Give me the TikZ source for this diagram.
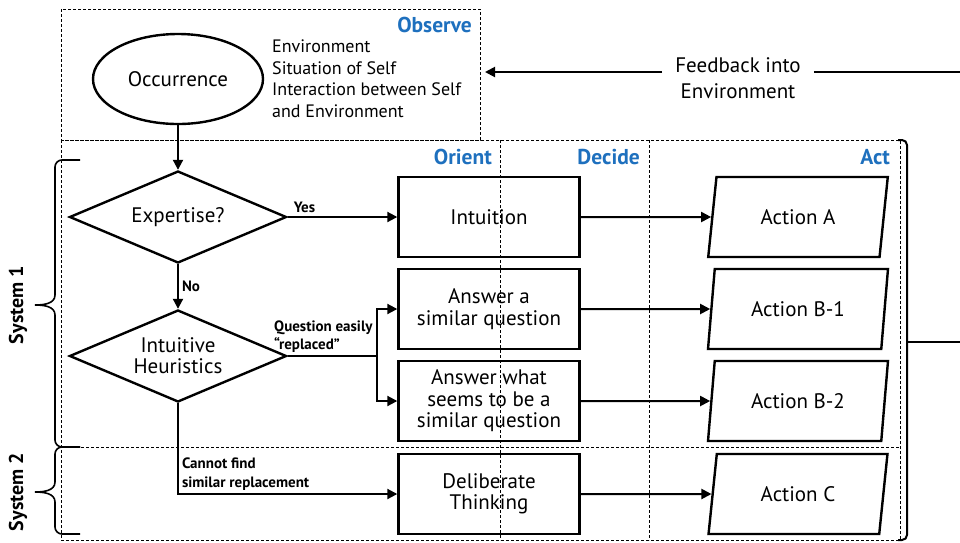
\documentclass[tikz,border=0pt]{standalone}
\usepackage{fontspec}
\setmainfont{PT Sans}
\usetikzlibrary{shapes.geometric,arrows.meta}
\definecolor{phaseblue}{RGB}{30,112,190}
\begin{document}
\begin{tikzpicture}[x=1pt,y=-1pt,
    box/.style={draw,line width=2.4pt,minimum width=181pt,minimum height=80pt,inner sep=0pt,align=center,font=\fontsize{21}{21.5}\selectfont},
    dec/.style={draw,diamond,aspect=2.36,line width=2.4pt,minimum width=217pt,minimum height=92pt,inner sep=0pt,align=center,font=\fontsize{21}{21}\selectfont},
    act/.style={draw,trapezium,trapezium left angle=76,trapezium right angle=104,trapezium stretches=true,line width=2.4pt,minimum width=180pt,minimum height=80pt,inner sep=0pt,font=\fontsize{21}{21.5}\selectfont},
    phase/.style={font=\fontsize{21.5}{22}\selectfont\bfseries,text=phaseblue,inner sep=0pt},
    lbl/.style={font=\fontsize{15}{18}\selectfont\bfseries,inner sep=3pt},
    arrow/.style={line width=2pt,-{Triangle[length=10pt,width=10pt]}},
    frame/.style={line width=0.9pt,dash pattern=on 3pt off 2pt},
    brace/.style={line width=1.6pt}]
  \useasboundingbox (0,0) rectangle (960,542);
  \draw[frame] (61,9) rectangle (480,140);
  \draw[frame] (61,140) rectangle (900,540);
  \draw[frame] (500,140) -- (500,540);
  \draw[frame] (649,140) -- (649,540);
  \draw[frame] (61,447) -- (900,447);
  \node[phase,anchor=east] (observe) at (472,25) {Observe};
  \node[phase,anchor=east] (orient) at (492,157) {Orient};
  \node[phase,anchor=east] (decide) at (640,157) {Decide};
  \node[phase,anchor=east] (act) at (890,157) {Act};
  \node[draw,ellipse,line width=2.4pt,minimum width=170pt,minimum height=90pt,inner sep=0pt,font=\fontsize{21}{21}\selectfont] (occ) at (178,79) {Occurrence};
  \node[anchor=north west,align=left,inner sep=0pt,font=\fontsize{18}{21.5}\selectfont] (env) at (272,40) {Environment\\Situation of Self\\Interaction between Self\\and Environment};
  \node[align=center,inner xsep=13pt,font=\fontsize{21}{26}\selectfont] (fb) at (738,78) {Feedback into\\Environment};
  \coordinate (fbin) at (485,72);
  \coordinate (fbout) at (960,72);
  \draw[arrow] (fb.west |- fbin) -- (fbin);
  \draw[line width=2pt] (fb.east |- fbin) -- (fbout);
  \node[dec] (exp) at (178,217) {Expertise?};
  \node[dec] (heu) at (178,356) {Intuitive\\Heuristics};
  \node[box] (intu) at (489,217) {Intuition};
  \node[box] (sim) at (489,309) {Answer a\\similar question};
  \node[box] (seem) at (489,401) {Answer what\\seems to be a\\similar question};
  \node[box] (delib) at (489,494) {Deliberate\\Thinking};
  \node[act] (actA) at (798,217) {Action A};
  \node[act] (actB1) at (798,309) {Action B-1};
  \node[act] (actB2) at (798,401) {Action B-2};
  \node[act] (actC) at (798,494) {Action C};
  \coordinate (split) at (377,356);
  \draw[arrow] (occ.south) -- (exp.north);
  \draw[arrow] (exp.east) -- node[lbl,pos=0.02,anchor=south west] {Yes} (intu.west);
  \draw[arrow] (exp.south) -- node[lbl,right] {No} (heu.north);
  \draw[line width=2pt] (heu.east) -- node[lbl,pos=0.4,anchor=south,align=left,font=\fontsize{15}{18}\selectfont\bfseries] {Question easily\\“replaced”} (split);
  \draw[arrow] (split) |- (sim.west);
  \draw[arrow] (split) |- (seem.west);
  \draw[arrow] (heu.south) |- node[lbl,pos=0.5,anchor=south west,align=left,font=\fontsize{15}{19}\selectfont\bfseries] {Cannot find\\similar replacement} (delib.west);
  \draw[arrow] (intu.east) -- (actA.west);
  \draw[arrow] (sim.east) -- (actB1.west);
  \draw[arrow] (seem.east) -- (actB2.west);
  \draw[arrow] (delib.east) -- (actC.west);
  \draw[line width=2pt,rounded corners=5pt] (898,140) -- (907,140) -- (907,540) -- (898,540);
  \coordinate (actout) at (960,342);
  \draw[line width=2pt] (907,342) -- (actout);
  \draw[brace] (80,160) -- (62,160) to[out=180,in=90] (55,167) -- (55,295) to[out=-90,in=0] (35,305) to[out=0,in=90] (55,315) -- (55,440) to[out=-90,in=180] (62,447) -- (80,447);
  \draw[brace] (80,447) -- (62,447) to[out=180,in=90] (55,454) -- (55,482) to[out=-90,in=0] (35,492) to[out=0,in=90] (55,502) -- (55,527) to[out=-90,in=180] (62,534) -- (80,534);
  \node[rotate=90,font=\fontsize{20}{22}\selectfont\bfseries] (sys1) at (18,305) {System 1};
  \node[rotate=90,font=\fontsize{20}{22}\selectfont\bfseries] (sys2) at (18,492) {System 2};
\end{tikzpicture}
\end{document}
